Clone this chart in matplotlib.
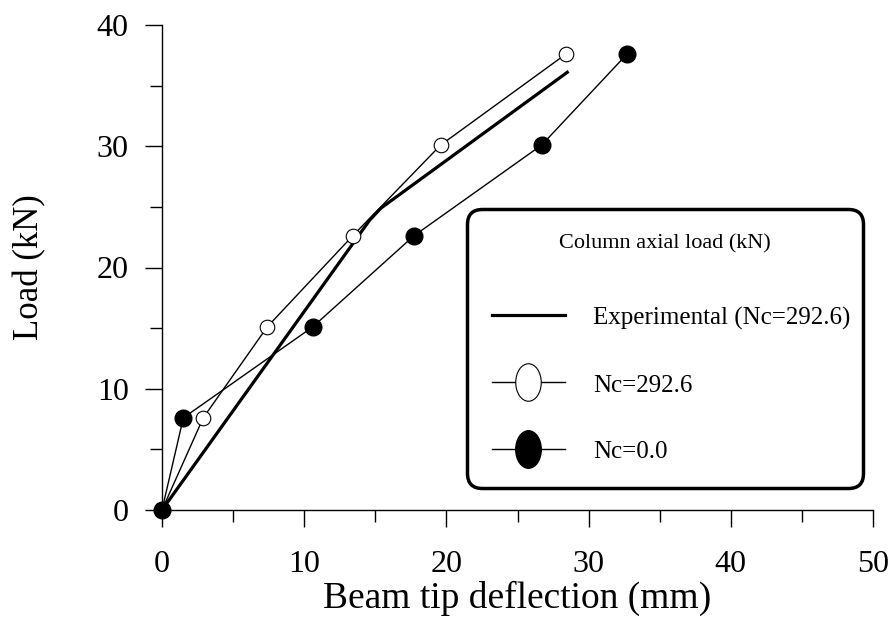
import matplotlib
matplotlib.use("Agg")
import matplotlib.pyplot as plt
from matplotlib.lines import Line2D
from matplotlib.path import Path
from matplotlib.ticker import MultipleLocator

plt.rcParams['font.family'] = ['Liberation Serif', 'DejaVu Serif']

# load steps (kN)
loads = [0, 7.6, 15.1, 22.6, 30.1, 37.6]
# beam tip deflection (mm) for each numerical case
defl_nc2926 = [0, 2.9, 7.4, 13.4, 19.6, 28.4]
defl_nc0 = [0, 1.5, 10.6, 17.7, 26.7, 32.7]
# experimental curve
exp_defl = [0, 14.6, 15.4, 28.5]
exp_load = [0, 23.9, 24.9, 36.1]

fig = plt.figure(figsize=(8.94, 6.19), dpi=100)
ax = fig.add_axes([162/894, 1 - 510/619, 711/894, 485/619])

ax.plot(exp_defl, exp_load, color='black', lw=2.3, clip_on=False, zorder=3)
ax.plot(defl_nc2926, loads, color='black', lw=1.0, marker='o', ms=10.5,
        mfc='white', mec='black', mew=0.8, clip_on=False, zorder=4)
ax.plot(defl_nc0, loads, color='black', lw=1.0, marker='o', ms=12,
        mfc='black', mec='black', clip_on=False, zorder=5)

ax.set_xlim(0, 50)
ax.set_ylim(0, 40)
ax.xaxis.set_major_locator(MultipleLocator(10))
ax.xaxis.set_minor_locator(MultipleLocator(5))
ax.yaxis.set_major_locator(MultipleLocator(10))
ax.yaxis.set_minor_locator(MultipleLocator(5))
ax.tick_params(which='major', direction='out', length=12, width=1,
               labelsize=23, color='black')
ax.tick_params(which='minor', direction='out', length=8.5, width=1)
ax.tick_params(axis='y', which='major', pad=12)
ax.tick_params(axis='x', which='major', pad=17)
for s in ['top', 'right']:
    ax.spines[s].set_visible(False)
for s in ['left', 'bottom']:
    ax.spines[s].set_linewidth(1)

ax.set_xlabel('Beam tip deflection (mm)', fontsize=27, labelpad=1)
ax.set_ylabel('Load (kN)', fontsize=25, labelpad=36)

# tall ellipse marker used in the legend
circ = Path.unit_circle()
ellipse = Path(circ.vertices * [0.68, 1.0], circ.codes)

handles = [
    Line2D([], [], color='black', lw=2.3),
    Line2D([], [], color='black', lw=1.0, marker=ellipse, ms=27,
           mfc='white', mec='black', mew=0.8),
    Line2D([], [], color='black', lw=1.0, marker=ellipse, ms=27,
           mfc='black', mec='black'),
]
labels = ['Experimental (Nc=292.6)', 'Nc=292.6', 'Nc=0.0']
leg = ax.legend(handles, labels, title='Column axial load (kN)',
                loc='upper left', bbox_to_anchor=(0.429, 0.052, 0.557, 0.569),
                mode='expand', borderaxespad=0, fontsize=18,
                title_fontsize=16, handlelength=2.9, handleheight=0.9,
                handletextpad=1.15, labelspacing=1.7, borderpad=1.0,
                fancybox=True, framealpha=1, edgecolor='black')
leg.get_frame().set_linewidth(2.5)
leg.get_frame().set_boxstyle('round,pad=0,rounding_size=0.6')
leg.set_zorder(10)
# a bit more room between the legend title and the entries
leg._legend_box.sep = 38

fig.savefig('out.png', dpi=100)
